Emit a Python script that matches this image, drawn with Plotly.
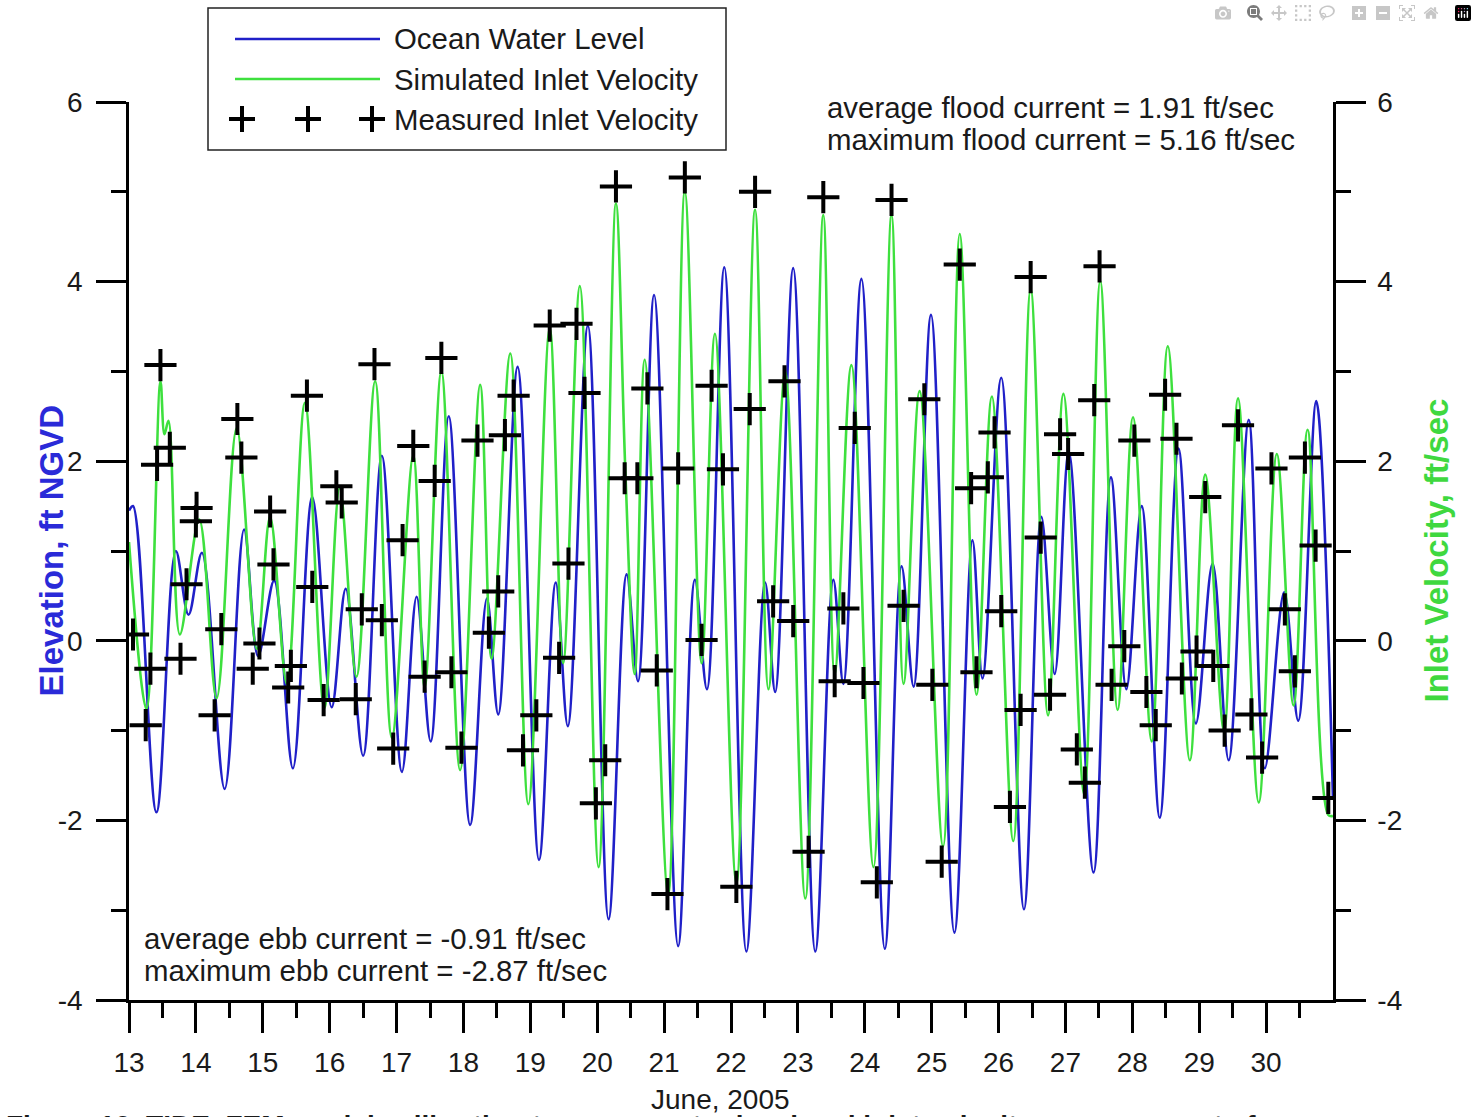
import plotly.graph_objects as go

# ---------------- data ----------------
# Ocean water level: extrema (day of June 2005, ft NGVD)
ocean_day = [13.0, 13.06, 13.41, 13.70, 13.89, 14.09, 14.43, 14.72, 14.93, 15.17, 15.45, 15.74,
             16.03, 16.24, 16.50, 16.78, 17.08, 17.30, 17.51, 17.78, 18.10, 18.35, 18.52, 18.81,
             19.13, 19.38, 19.56, 19.86, 20.17, 20.44, 20.61, 20.85, 21.21, 21.46, 21.64, 21.90,
             22.23, 22.51, 22.66, 22.93, 23.26, 23.53, 23.68, 23.95, 24.30, 24.55, 24.73, 24.99,
             25.34, 25.61, 25.76, 26.04, 26.38, 26.64, 26.84, 27.05, 27.42, 27.68, 27.91, 28.14,
             28.41, 28.69, 28.95, 29.20, 29.44, 29.74, 29.98, 30.27, 30.48, 30.75, 31.0]
ocean_level = [1.45, 1.5, -1.91, 1.0, 0.29, 0.98, -1.65, 1.24, -0.17, 0.67, -1.42, 1.6,
               -0.74, 0.58, -1.28, 2.06, -1.46, 0.49, -1.12, 2.5, -2.05, 0.47, -0.82, 3.05,
               -2.44, 0.65, -0.95, 3.51, -3.1, 0.74, -0.45, 3.85, -3.4, 0.68, -0.54, 4.16,
               -3.46, 0.65, -0.57, 4.15, -3.46, 0.68, -0.48, 4.03, -3.43, 0.83, -0.51, 3.63,
               -3.25, 1.12, -0.42, 2.93, -2.99, 1.38, -0.37, 2.1, -2.58, 1.82, -0.54, 1.5,
               -1.97, 2.14, -0.92, 0.86, -1.33, 2.46, -1.42, 0.54, -0.89, 2.67, -1.77]

# Simulated inlet velocity: extrema (day, ft/sec)
sim_day = [13.0, 13.26, 13.47, 13.53, 13.59, 13.76, 14.05, 14.31, 14.61, 14.91, 15.11, 15.36,
           15.63, 15.92, 16.15, 16.40, 16.68, 16.93, 17.25, 17.42, 17.67, 17.95, 18.25, 18.42,
           18.70, 18.97, 19.29, 19.49, 19.74, 20.02, 20.28, 20.42, 20.56, 20.71, 21.06, 21.31,
           21.56, 21.76, 22.08, 22.36, 22.56, 22.81, 23.11, 23.38, 23.55, 23.80, 24.13, 24.40,
           24.58, 24.82, 25.17, 25.42, 25.67, 25.90, 26.22, 26.48, 26.74, 26.97, 27.28, 27.52,
           27.78, 28.01, 28.29, 28.53, 28.86, 29.09, 29.37, 29.58, 29.89, 30.16, 30.41, 30.62,
           30.93, 31.0]
sim_vel = [1.1, -0.76, 2.89, 2.3, 2.45, 0.07, 1.35, -0.64, 2.37, -0.09, 1.38, -0.48,
           2.65, -0.75, 1.7, -0.4, 2.89, -1.08, 2.06, -0.52, 3.0, -1.44, 2.85, -0.2,
           3.2, -1.82, 3.48, -0.25, 3.95, -2.52, 4.87, 1.9, -0.37, 3.13, -2.82, 5.0,
           -0.25, 3.42, -2.7, 4.8, -0.54, 3.0, -2.87, 4.74, -0.37, 3.07, -2.52, 4.74,
           -0.48, 2.78, -2.29, 4.53, -0.6, 2.72, -2.23, 3.92, -0.83, 2.75, -1.71, 4.01,
           -0.77, 2.49, -1.12, 3.28, -1.33, 1.85, -1.0, 2.7, -1.8, 2.08, -0.72, 2.35,
           -1.94, -1.95]

# Measured inlet velocity (day, ft/sec)
meas_day = [13.06, 13.25, 13.32, 13.42, 13.47, 13.61, 13.77, 13.86, 14.00, 14.01, 14.28, 14.38,
            14.62, 14.68, 14.85, 14.95, 15.11, 15.16, 15.38, 15.42, 15.66, 15.74, 15.91, 16.10,
            16.18, 16.39, 16.48, 16.67, 16.78, 16.95, 17.09, 17.25, 17.42, 17.57, 17.67, 17.82,
            17.97, 18.21, 18.38, 18.52, 18.62, 18.75, 18.89, 19.09, 19.29, 19.43, 19.57, 19.69,
            19.81, 19.98, 20.12, 20.28, 20.41, 20.60, 20.75, 20.89, 21.05, 21.21, 21.31, 21.56,
            21.71, 21.88, 22.08, 22.28, 22.36, 22.63, 22.80, 22.93, 23.16, 23.38, 23.55, 23.68,
            23.85, 23.98, 24.18, 24.40, 24.58, 24.89, 25.01, 25.15, 25.42, 25.59, 25.67, 25.84,
            25.94, 26.04, 26.17, 26.33, 26.48, 26.63, 26.77, 26.92, 27.04, 27.17, 27.29, 27.43,
            27.51, 27.69, 27.88, 28.03, 28.21, 28.35, 28.49, 28.66, 28.74, 28.96, 29.09, 29.21,
            29.38, 29.58, 29.78, 29.94, 30.08, 30.28, 30.43, 30.58, 30.74, 30.93]
meas_vel = [0.07, -0.94, -0.31, 1.96, 3.07, 2.15, -0.2, 0.63, 1.33, 1.48, -0.83, 0.13,
            2.47, 2.04, -0.31, -0.03, 1.44, 0.85, -0.52, -0.28, 2.73, 0.6, -0.66, 1.72,
            1.54, -0.65, 0.35, 3.08, 0.23, -1.2, 1.12, 2.17, -0.4, 1.78, 3.15, -0.35,
            -1.19, 2.23, 0.09, 0.55, 2.29, 2.73, -1.22, -0.83, 3.51, -0.19, 0.86, 3.53,
            2.76, -1.81, -1.33, 5.06, 1.81, 1.81, 2.81, -0.33, -2.82, 1.92, 5.16, 0.01,
            2.84, 1.91, -2.74, 2.58, 5.0, 0.44, 2.89, 0.22, -2.35, 4.94, -0.45, 0.36,
            2.37, -0.47, -2.69, 4.91, 0.39, 2.69, -0.49, -2.46, 4.19, 1.7, -0.35, 1.82,
            2.32, 0.33, -1.85, -0.77, 4.05, 1.15, -0.6, 2.3, 2.08, -1.21, -1.58, 2.68,
            4.17, -0.49, -0.06, 2.23, -0.57, -0.94, 2.74, 2.25, -0.42, -0.12, 1.6, -0.28,
            -1.0, 2.4, -0.82, -1.3, 1.92, 0.35, -0.34, 2.04, 1.06, -1.75]

day_ticks = list(range(13, 31))
day_labels = [str(d) for d in day_ticks]
y_ticks = [-4, -2, 0, 2, 4, 6]
y_labels = [str(v) for v in y_ticks]

legend_names = ["Ocean Water Level", "Simulated Inlet Velocity", "Measured Inlet Velocity"]
flood_text = ["average flood current = 1.91 ft/sec", "maximum flood current = 5.16 ft/sec"]
ebb_text = ["average ebb current = -0.91 ft/sec", "maximum ebb current = -2.87 ft/sec"]

# ---------------- styling ----------------
W, H = 1477, 1117
L, R, T, B = 129, 1333, 102, 1000          # plot area in pixels
BLUE = "#2020c8"
GREEN = "#3ee03e"
FONT = "Liberation Sans, Arial, sans-serif"
FS = 28
TFS = 29.4


def px(x):
    return (x - L) / (R - L)


def py(y):
    return (B - y) / (B - T)


fig = go.Figure()

fig.add_trace(go.Scatter(x=sim_day, y=sim_vel, mode="lines", yaxis="y2",
                         line=dict(color=GREEN, width=2.6, shape="spline", smoothing=1.0),
                         name=legend_names[1], showlegend=False))
fig.add_trace(go.Scatter(x=ocean_day, y=ocean_level, mode="lines", yaxis="y",
                         line=dict(color=BLUE, width=2.6, shape="spline", smoothing=1.0),
                         name=legend_names[0], showlegend=False))
fig.add_trace(go.Scatter(x=meas_day, y=meas_vel, mode="markers", yaxis="y2",
                         marker=dict(symbol="cross-thin", size=23, color="black",
                                     line=dict(width=4, color="black")),
                         name=legend_names[2], showlegend=False))

axis_common = dict(showline=True, linecolor="black", linewidth=2.5, ticks="outside",
                   ticklen=30, tickwidth=2.5, tickcolor="black", showgrid=False,
                   zeroline=False, tickfont=dict(size=FS, color="#1a1a1a", family=FONT))

fig.update_layout(
    width=W, height=H,
    margin=dict(l=L, r=W - R, t=T, b=H - B),
    paper_bgcolor="white", plot_bgcolor="white",
    font=dict(family=FONT, size=FS, color="#1a1a1a"),
    showlegend=False,
    xaxis=dict(range=[13, 31], tickmode="array", tickvals=day_ticks, ticktext=day_labels,
               ticklabelstandoff=6,
               minor=dict(tickmode="array", tickvals=[d + 0.5 for d in day_ticks],
                          ticks="outside", ticklen=15, tickwidth=2.5, tickcolor="black"),
               **axis_common),
    yaxis=dict(range=[-4, 6], tickmode="array", tickvals=y_ticks, ticktext=y_labels,
               ticklabelstandoff=8,
               minor=dict(tickmode="linear", tick0=-4, dtick=1,
                          ticks="outside", ticklen=15, tickwidth=2.5, tickcolor="black"),
               **axis_common),
    yaxis2=dict(range=[-4, 6], overlaying="y", side="right", anchor="x",
                tickmode="array", tickvals=y_ticks, ticktext=y_labels,
                ticklabelstandoff=6,
                minor=dict(tickmode="linear", tick0=-4, dtick=1,
                           ticks="outside", ticklen=15, tickwidth=2.5, tickcolor="black"),
                **axis_common),
)

ann = []
# axis titles
ann.append(dict(text="<b>Elevation, ft NGVD</b>", x=px(30), y=0.5, xref="paper", yref="paper",
                textangle=-90, showarrow=False, font=dict(size=33, color="#2a2ad8", family=FONT)))
ann.append(dict(text="<b>Inlet Velocity, ft/sec</b>", x=px(1456), y=0.5, xref="paper", yref="paper",
                textangle=-90, showarrow=False, font=dict(size=33, color="#3fd83f", family=FONT)))
ann.append(dict(text="June, 2005", x=px(720), y=py(1099), xref="paper", yref="paper",
                xanchor="center", yanchor="middle",
                showarrow=False, font=dict(size=FS, color="#1a1a1a", family=FONT)))
# caption of the source figure, cut off by the bottom edge as in the reference
ann.append(dict(text="<b>Figure 10. TIDE_FEM model calibration to ocean water level and inlet velocity measurements for</b>",
                x=px(4), y=py(1108), xref="paper", yref="paper", xanchor="left", yanchor="top",
                showarrow=False, font=dict(size=FS, color="#1a1a1a", family=FONT)))
# statistics text
for i, t in enumerate(flood_text):
    ann.append(dict(text=t, x=px(825), y=py(107 + 32 * i), xref="paper", yref="paper",
                    xanchor="left", yanchor="middle", showarrow=False,
                    font=dict(size=TFS, color="#1a1a1a", family=FONT)))
for i, t in enumerate(ebb_text):
    ann.append(dict(text=t, x=px(142), y=py(938 + 32 * i), xref="paper", yref="paper",
                    xanchor="left", yanchor="middle", showarrow=False,
                    font=dict(size=TFS, color="#1a1a1a", family=FONT)))
# legend text
for i, t in enumerate(legend_names):
    ann.append(dict(text=t, x=px(392), y=py(39 + 40 * i), xref="paper", yref="paper",
                    xanchor="left", yanchor="middle", showarrow=False,
                    font=dict(size=TFS, color="#1a1a1a", family=FONT)))

shapes = []
# legend box
shapes.append(dict(type="rect", xref="paper", yref="paper", x0=px(208), x1=px(726),
                   y0=py(150), y1=py(8), line=dict(color="#222", width=1.5),
                   fillcolor="white", layer="above"))
shapes.append(dict(type="line", xref="paper", yref="paper", x0=px(235), x1=px(380),
                   y0=py(39), y1=py(39), line=dict(color=BLUE, width=2.5)))
shapes.append(dict(type="line", xref="paper", yref="paper", x0=px(235), x1=px(380),
                   y0=py(79), y1=py(79), line=dict(color=GREEN, width=2.5)))
for cx in (242, 308, 372):
    shapes.append(dict(type="line", xref="paper", yref="paper", x0=px(cx - 13), x1=px(cx + 13),
                       y0=py(119), y1=py(119), line=dict(color="black", width=4)))
    shapes.append(dict(type="line", xref="paper", yref="paper", x0=px(cx), x1=px(cx),
                       y0=py(106), y1=py(132), line=dict(color="black", width=4)))

fig.update_layout(annotations=ann, shapes=shapes)

fig.write_html("out.html", post_script="document.body.style.margin='0';document.body.style.padding='0';")
